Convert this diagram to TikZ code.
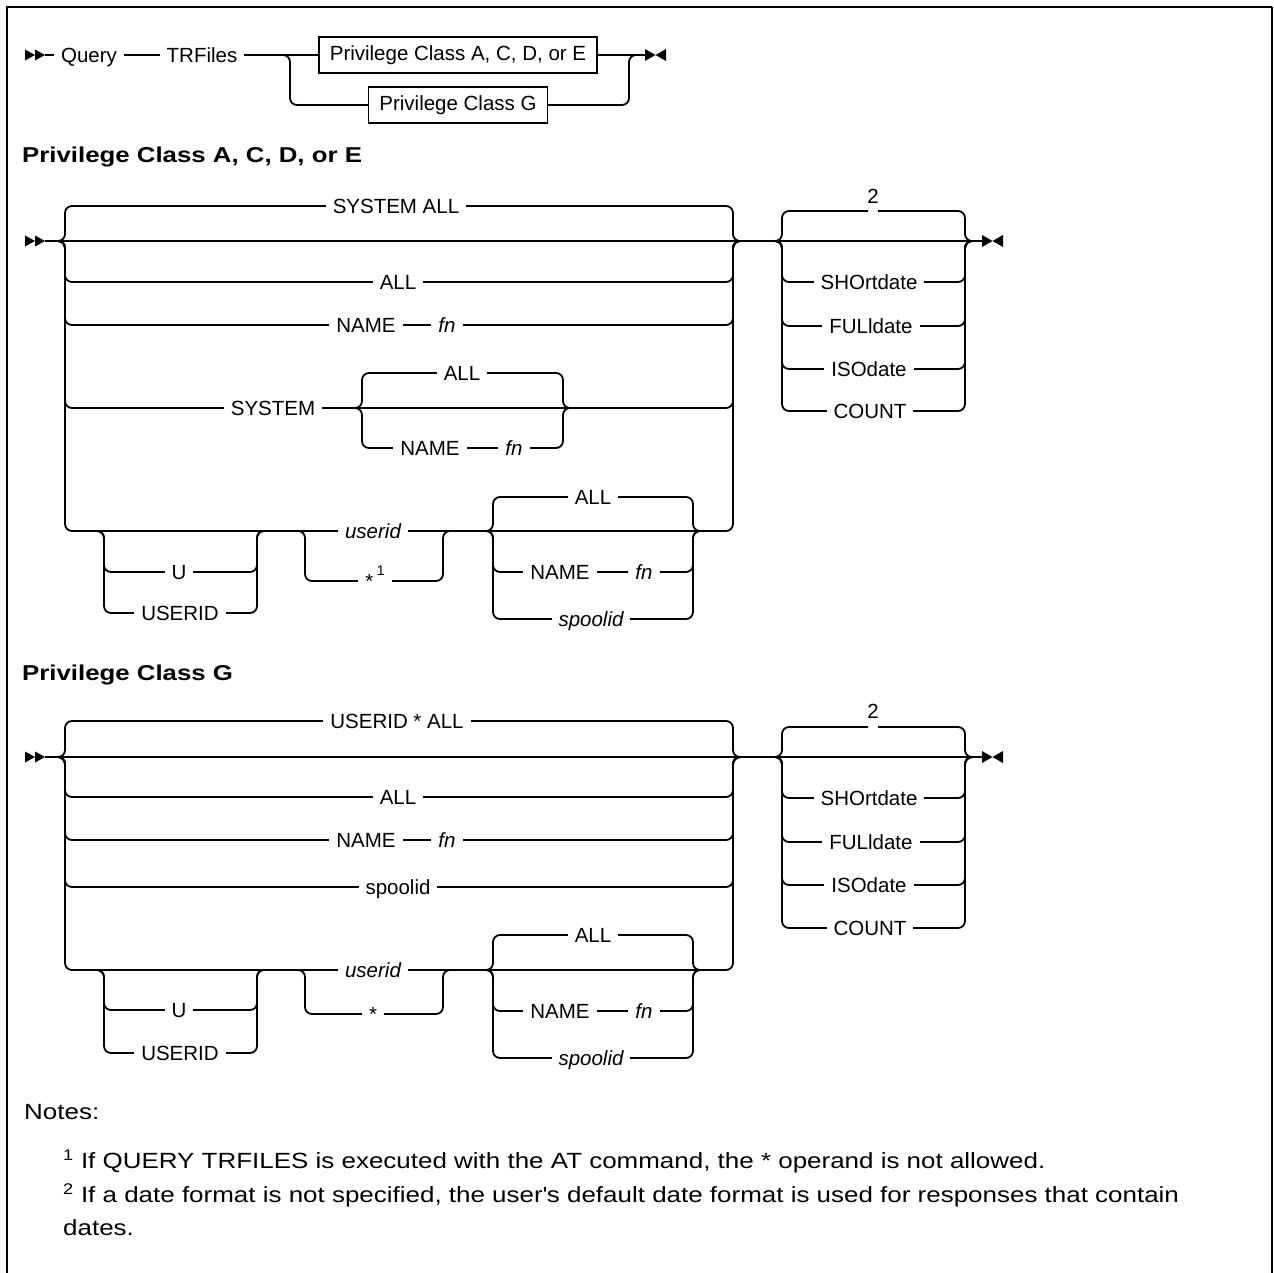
\documentclass[tikz,border=0pt]{standalone}
\usepackage{fontspec}
\setmainfont{Liberation Sans}
\newfontfamily\widefont[FakeStretch=1.18]{Liberation Sans}
\newfontfamily\wideheadfont[FakeStretch=1.2]{Liberation Sans}
\newcommand\dfont{\fontsize{20.5}{24}\selectfont}
\newcommand\hfont{\wideheadfont\fontsize{21.5}{25}\selectfont}
\newcommand\nfont{\widefont\fontsize{22}{27}\selectfont}
\newcommand\railbranch[4]{\draw[rail] ({#1-8},#3) -- (#1,#3) -- (#1,#4) -- (#2,#4) -- (#2,#3) -- ({#2+8},#3);}
\newcommand\startmark[1]{\fill (25,{#1-5.5}) -- (35,#1) -- (25,{#1+5.5}) -- cycle; \fill (35,{#1-5.5}) -- (45,#1) -- (35,{#1+5.5}) -- cycle;}
\newcommand\stopmark[2]{\fill (#1,{#2-6}) -- ({#1+10.5},#2) -- (#1,{#2+6}) -- cycle; \fill ({#1+21},{#2-6}) -- ({#1+10.5},#2) -- ({#1+21},{#2+6}) -- cycle;}
\begin{document}
\begin{tikzpicture}[x=1pt,y=-1pt,
  rail/.style={line width=1.8pt, rounded corners=7pt},
  lbl/.style={fill=white, inner xsep=7pt, inner ysep=1pt, anchor=base, font=\dfont},
  it/.style={lbl, font=\dfont\itshape},
  plain/.style={inner sep=0pt, anchor=base, font=\dfont},
  kbox/.style={draw, line width=1.5pt, fill=white, minimum height=36pt, inner xsep=11pt, font=\dfont},
  head/.style={anchor=base west, font=\hfont\bfseries, inner sep=0pt},
  note/.style={anchor=base west, font=\nfont, inner sep=0pt}]
\useasboundingbox (0,0) rectangle (1274,1272);
% frame
\draw[line width=2.4pt] (7,1273) -- (7,7) -- (1272,7);
\draw[line width=1.6pt] (1272,7) -- (1272,1273);

% ---------- top row ----------
\coordinate (s0) at (45,55);
\coordinate (e0) at (645,55);
\startmark{55}
\draw[rail] (s0) -- (e0);
\railbranch{290}{629}{55}{105}
\stopmark{645}{55}
\node[lbl] (query) at (89,62) {Query};
\node[lbl] (trf) at (202,62) {TRFiles};
\node[kbox] (boxA) at (458,55) {Privilege Class A, C, D, or E};
\node[kbox] (boxG) at (458,105) {Privilege Class G};

% ---------- section A ----------
\node[head] (hA) at (22,162.5) {Privilege Class A, C, D, or E};
\coordinate (sA) at (45,241);
\coordinate (eA) at (982,241);
\startmark{241}
\draw[rail] (sA) -- (eA);
\railbranch{65}{733}{241}{206}
\railbranch{65}{733}{241}{282}
\railbranch{65}{733}{241}{325}
\railbranch{65}{733}{241}{408}
\railbranch{65}{733}{241}{531}
\railbranch{362}{563}{408}{373}
\railbranch{362}{563}{408}{448}
\railbranch{104}{257}{531}{572}
\railbranch{104}{257}{531}{613}
\railbranch{305}{443}{531}{581}
\railbranch{493}{693}{531}{497}
\railbranch{493}{693}{531}{572}
\railbranch{493}{693}{531}{619}
\draw[rail] (774,241) -- (782,241) -- (782,211) -- (868,211);
\draw[rail] (878,211) -- (965,211) -- (965,241) -- (973,241);
\railbranch{782}{965}{241}{282}
\railbranch{782}{965}{241}{326}
\railbranch{782}{965}{241}{369}
\railbranch{782}{965}{241}{411}
\stopmark{982}{241}
\node[lbl] (a1) at (396,213) {SYSTEM ALL};
\node[lbl] (a2) at (398,289) {ALL};
\node[lbl] (a3) at (366,332) {NAME};
\node[it] (a3f) at (447,332) {fn};
\node[lbl] (a4) at (273,415) {SYSTEM};
\node[lbl] (a5) at (462,380) {ALL};
\node[lbl] (a6) at (430,455) {NAME};
\node[it] (a6f) at (514,455) {fn};
\node[it] (a7) at (373,538) {userid};
\node[lbl] (a8) at (179,579) {U};
\node[lbl] (a9) at (180,620) {USERID};
\node[lbl] (a10) at (375,588) {*\,\raisebox{13pt}{\fontsize{14}{14}\selectfont 1}};
\node[lbl] (a11) at (593,504) {ALL};
\node[lbl] (a12) at (560,579) {NAME};
\node[it] (a12f) at (644,579) {fn};
\node[it] (a13) at (591,626) {spoolid};
\node[plain] (a18) at (873,203) {2};
\node[lbl] (a14) at (869,289) {SHOrtdate};
\node[lbl] (a15) at (871,333) {FULldate};
\node[lbl] (a16) at (869,376) {ISOdate};
\node[lbl] (a17) at (870,418) {COUNT};

% ---------- section G ----------
\node[head] (hG) at (22,680) {Privilege Class G};
\coordinate (sG) at (45,757);
\coordinate (eG) at (982,757);
\startmark{757}
\draw[rail] (sG) -- (eG);
\railbranch{65}{733}{757}{721}
\railbranch{65}{733}{757}{797}
\railbranch{65}{733}{757}{840}
\railbranch{65}{733}{757}{887}
\railbranch{65}{733}{757}{970}
\railbranch{104}{257}{970}{1010}
\railbranch{104}{257}{970}{1053}
\railbranch{305}{443}{970}{1014}
\railbranch{493}{693}{970}{935}
\railbranch{493}{693}{970}{1011}
\railbranch{493}{693}{970}{1058}
\draw[rail] (774,757) -- (782,757) -- (782,727) -- (868,727);
\draw[rail] (878,727) -- (965,727) -- (965,757) -- (973,757);
\railbranch{782}{965}{757}{798}
\railbranch{782}{965}{757}{842}
\railbranch{782}{965}{757}{885}
\railbranch{782}{965}{757}{928}
\stopmark{982}{757}
\node[lbl] (g1) at (397,728) {USERID * ALL};
\node[lbl] (g2) at (398,804) {ALL};
\node[lbl] (g3) at (366,847) {NAME};
\node[it] (g3f) at (447,847) {fn};
\node[lbl] (g4) at (398,894) {spoolid};
\node[it] (g5) at (373,977) {userid};
\node[lbl] (g6) at (179,1017) {U};
\node[lbl] (g7) at (180,1060) {USERID};
\node[lbl] (g8) at (373,1021) {*};
\node[lbl] (g9) at (593,942) {ALL};
\node[lbl] (g10) at (560,1018) {NAME};
\node[it] (g10f) at (644,1018) {fn};
\node[it] (g11) at (591,1065) {spoolid};
\node[plain] (g16) at (873,718) {2};
\node[lbl] (g12) at (869,805) {SHOrtdate};
\node[lbl] (g13) at (871,849) {FULldate};
\node[lbl] (g14) at (869,892) {ISOdate};
\node[lbl] (g15) at (870,935) {COUNT};

% ---------- notes ----------
\node[note] (notes) at (24,1119) {Notes:};
\node[note] (n1) at (63,1168) {\textsuperscript{1} If QUERY TRFILES is executed with the AT command, the * operand is not allowed.};
\node[note] (n2) at (63,1202) {\textsuperscript{2} If a date format is not specified, the user\textquotesingle s default date format is used for responses that contain};
\node[note] (n3) at (63,1235) {dates.};
\end{tikzpicture}
\end{document}
